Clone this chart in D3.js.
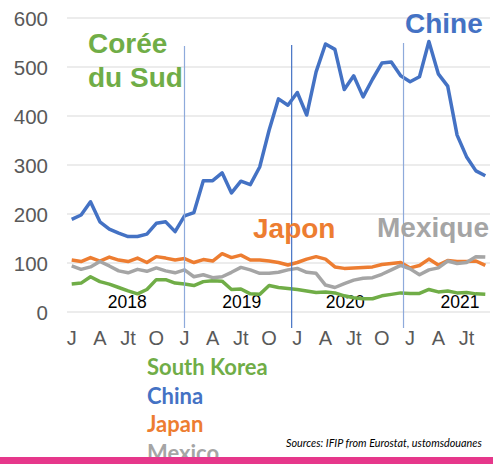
<!DOCTYPE html>
<html>
<head>
<meta charset="utf-8">
<script src="https://cdn.jsdelivr.net/npm/d3@7"></script>
<style>
body { margin: 0; background: #fff; }
svg { display: block; }
</style>
</head>
<body>
<svg id="chart"></svg>
<script>
// monthly values, Jan 2018 -> Sep 2021
var korea = [57, 59, 72, 62, 57, 50, 43, 37, 46, 66, 66, 59,
             57, 54, 62, 64, 63, 46, 47, 37, 36, 54, 50, 48,
             46, 43, 40, 41, 39, 33, 29, 27, 27, 33, 36, 39,
             38, 38, 46, 41, 43, 39, 40, 37, 36];
var china = [189, 198, 225, 184, 169, 161, 154, 154, 159, 181, 184, 164,
             196, 203, 268, 268, 284, 243, 267, 260, 296, 371, 435, 422,
             448, 402, 490, 547, 536, 454, 482, 439, 475, 508, 510, 482,
             470, 480, 552, 486, 461, 361, 317, 288, 278];
var japan = [106, 103, 111, 104, 112, 106, 103, 110, 101, 113, 110, 106,
             109, 101, 107, 104, 119, 111, 116, 106, 106, 104, 101, 96,
             101, 108, 113, 108, 92, 89, 90, 91, 92, 97, 99, 101,
             90, 95, 108, 96, 105, 103, 103, 104, 95];
var mexico = [94, 87, 92, 103, 94, 84, 80, 87, 83, 90, 84, 80,
              86, 72, 76, 70, 72, 81, 91, 86, 79, 79, 81, 86,
              89, 81, 79, 55, 50, 58, 65, 69, 70, 77, 86, 95,
              88, 76, 86, 90, 104, 99, 101, 113, 112];

var monthTicks = ["J", "A", "Jt", "O"];
var years = ["2018", "2019", "2020", "2021"];
var yearPos = [5.9, 18.1, 29.1, 41.3];
var dividers = [12, 23.4, 35.3];
var yTicks = [0, 100, 200, 300, 400, 500, 600];

var width = 493;
var height = 464;

var svg = d3.select("#chart")
  .attr("width", width)
  .attr("height", height)
  .style("font-family", "'Liberation Sans', Arial, sans-serif");

var x = d3.scaleLinear().domain([-0.5, china.length - 0.5]).range([67, 490]);
var y = d3.scaleLinear().domain([0, 600]).range([312, 18]);

svg.selectAll(".grid")
  .data(yTicks)
  .enter()
  .append("line")
  .attr("class", "grid")
  .attr("x1", 67)
  .attr("x2", 490)
  .attr("y1", function(d){ return y(d); })
  .attr("y2", function(d){ return y(d); })
  .attr("stroke", "#d9d9d9")
  .attr("stroke-width", 1);

svg.selectAll(".ylab")
  .data(yTicks)
  .enter()
  .append("text")
  .attr("class", "ylab")
  .text(function(d){ return d; })
  .attr("x", 48)
  .attr("y", function(d){ return y(d) + 7.5; })
  .attr("text-anchor", "end")
  .attr("font-size", "20.5px")
  .attr("fill", "#595959");

var tickIdx = d3.range(0, china.length, 3);
svg.selectAll(".xlab")
  .data(tickIdx)
  .enter()
  .append("text")
  .attr("class", "xlab")
  .text(function(d, i){ return monthTicks[i % 4]; })
  .attr("x", function(d){ return x(d); })
  .attr("y", 345)
  .attr("text-anchor", "middle")
  .attr("font-size", "20px")
  .attr("fill", "#595959");

svg.selectAll(".year")
  .data(years)
  .enter()
  .append("text")
  .attr("class", "year")
  .text(function(d){ return d; })
  .attr("x", function(d, i){ return x(yearPos[i]); })
  .attr("y", 308)
  .attr("text-anchor", "middle")
  .attr("font-size", "17.5px")
  .attr("fill", "#000");

var line = d3.line()
  .x(function(d, i){ return x(i); })
  .y(function(d){ return y(d); });

var series = [
  {values: korea, color: "#70ad47"},
  {values: china, color: "#4472c4"},
  {values: japan, color: "#ed7d31"},
  {values: mexico, color: "#a5a5a5"}
];

svg.selectAll(".series")
  .data(series)
  .enter()
  .append("path")
  .attr("class", "series")
  .attr("d", function(d){ return line(d.values); })
  .attr("fill", "none")
  .attr("stroke", function(d){ return d.color; })
  .attr("stroke-width", 3.5)
  .attr("stroke-linejoin", "round");

var divColors = ["#8eaadb", "#4472c4", "#8eaadb"];
var divTops = [46, 45, 43];
svg.selectAll(".divider")
  .data(dividers)
  .enter()
  .append("line")
  .attr("class", "divider")
  .attr("x1", function(d){ return x(d); })
  .attr("x2", function(d){ return x(d); })
  .attr("y1", function(d, i){ return divTops[i]; })
  .attr("y2", 328)
  .attr("stroke", function(d, i){ return divColors[i]; })
  .attr("stroke-width", 1.2);

var labels = [
  {t: "Corée", x: 88, y: 53, c: "#70ad47"},
  {t: "du Sud", x: 88, y: 87, c: "#70ad47"},
  {t: "Chine", x: 405, y: 33, c: "#4472c4"},
  {t: "Japon", x: 253, y: 238, c: "#ed7d31"},
  {t: "Mexique", x: 377, y: 237, c: "#a5a5a5"}
];
svg.selectAll(".big")
  .data(labels)
  .enter()
  .append("text")
  .attr("class", "big")
  .text(function(d){ return d.t; })
  .attr("x", function(d){ return d.x; })
  .attr("y", function(d){ return d.y; })
  .attr("font-size", "28px")
  .attr("font-weight", "bold")
  .attr("fill", function(d){ return d.c; });

var legend = ["South Korea", "China", "Japan", "Mexico"];
svg.selectAll(".legend")
  .data(legend)
  .enter()
  .append("text")
  .attr("class", "legend")
  .text(function(d){ return d; })
  .attr("x", 147)
  .attr("y", function(d, i){ return 375 + i * 28.5; })
  .attr("font-family", "Lato, sans-serif")
  .attr("font-size", "22px")
  .attr("font-weight", "bold")
  .attr("fill", function(d, i){ return series[i].color; });

svg.append("text")
  .text("Sources: IFIP from Eurostat, ustomsdouanes")
  .attr("x", 286)
  .attr("y", 447)
  .attr("font-family", "Lato, sans-serif")
  .attr("font-size", "10.8px")
  .attr("font-style", "italic")
  .attr("fill", "#000");

svg.append("rect")
  .attr("x", 0)
  .attr("y", 457)
  .attr("width", width)
  .attr("height", height - 457)
  .attr("fill", "#e6378b");
</script>
</body>
</html>
